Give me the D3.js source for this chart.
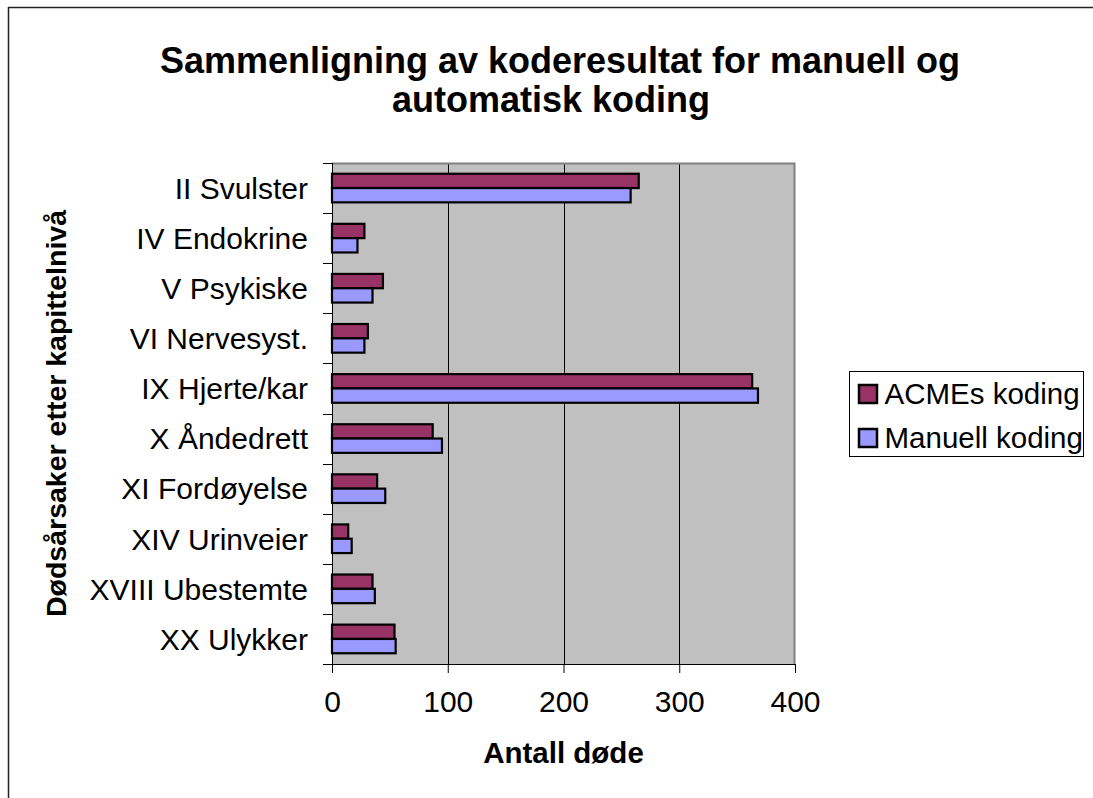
<!DOCTYPE html>
<html>
<head>
<meta charset="utf-8">
<script src="https://cdn.jsdelivr.net/npm/d3@7"></script>
<style>
  body { margin: 0; background: #fff; }
  text { font-family: "Liberation Sans", Arial, sans-serif; fill: #000; }
</style>
</head>
<body>
<div id="chart"></div>
<script>
// data
var categories = ["II Svulster", "IV Endokrine", "V Psykiske", "VI Nervesyst.", "IX Hjerte/kar",
    "X Åndedrett", "XI Fordøyelse", "XIV Urinveier", "XVIII Ubestemte", "XX Ulykker"];
var seriesNames = ["ACMEs koding", "Manuell koding"];
var acmes   = [265, 28, 44, 31, 363, 87, 39, 14, 35, 54];
var manuell = [258, 22, 35, 28, 368, 95, 46, 17, 37, 55];
var xTicks = [0, 100, 200, 300, 400];
var colors = ["#993366", "#9999ff"];

var W = 1093, H = 798;
var m = {t:163, r:298, b:134, l:332};
var w = W - m.l - m.r, h = H - m.t - m.b;   // plot is 463 x 501

var svg = d3.select('#chart').append('svg')
    .attr('width', W).attr('height', H);

// chart frame (runs off the right / bottom edge like the original)
svg.append('rect')
    .attr('x', 8.5).attr('y', 7.5)
    .attr('width', W + 20).attr('height', H + 20)
    .attr('fill', 'none').attr('stroke', '#222').attr('stroke-width', 1.5);

// title
svg.append('text').attr('x', 560).attr('y', 73)
    .attr('text-anchor', 'middle').attr('font-size', 36).attr('font-weight', 'bold')
    .text('Sammenligning av koderesultat for manuell og');
svg.append('text').attr('x', 551).attr('y', 112)
    .attr('text-anchor', 'middle').attr('font-size', 36).attr('font-weight', 'bold')
    .text('automatisk koding');

var plot = svg.append('g').attr('transform', 'translate(' + m.l + ',' + m.t + ')');

var x = d3.scaleLinear().domain([0, 400]).range([0, w]);
var y0 = d3.scaleBand().domain(categories).range([0, h]);
var barH = y0.bandwidth() / 3.5;
var y1 = d3.scaleBand().domain(seriesNames)
    .range([barH * 0.75, barH * 2.75]);

// plot background
plot.append('rect').attr('width', w).attr('height', h).attr('fill', '#c0c0c0');

// gridlines
plot.selectAll('.grid').data(xTicks.slice(1, -1)).enter()
    .append('line').attr('class', 'grid')
    .attr('x1', function(d){ return Math.round(x(d)) + 0.5; })
    .attr('x2', function(d){ return Math.round(x(d)) + 0.5; })
    .attr('y1', 0).attr('y2', h)
    .attr('stroke', '#000').attr('stroke-width', 1);

// plot border (grey on top and right)
plot.append('path')
    .attr('d', 'M0,0.5H' + (w - 0.5) + 'V' + h)
    .attr('fill', 'none').attr('stroke', '#808080').attr('stroke-width', 2);

// bars
var rows = categories.map(function(c, i){
    return {cat: c, vals: [{s: seriesNames[0], v: acmes[i]}, {s: seriesNames[1], v: manuell[i]}]};
});

var groups = plot.selectAll('.grp').data(rows).enter()
    .append('g').attr('class', 'grp')
    .attr('transform', function(d){ return 'translate(0,' + y0(d.cat) + ')'; });

groups.selectAll('rect').data(function(d){ return d.vals; }).enter()
    .append('rect')
    .attr('x', x(0))
    .attr('y', function(d){ return y1(d.s); })
    .attr('width', function(d){ return x(d.v) - x(0); })
    .attr('height', y1.bandwidth())
    .attr('fill', function(d, i){ return colors[i]; })
    .attr('stroke', '#000').attr('stroke-width', 2.2);

// x axis
var xAxis = plot.append('g').attr('transform', 'translate(0,' + h + ')')
    .call(d3.axisBottom(x).tickValues(xTicks).tickSize(9).tickPadding(18));
xAxis.select('.domain').attr('d', 'M-9,0.5H' + w);
xAxis.selectAll('text').attr('font-size', 30)
    .style('font-family', '"Liberation Sans", Arial, sans-serif').attr('fill', '#000');

// y axis: ticks on band edges
var yAxis = plot.append('g');
yAxis.append('line').attr('x1', 0.5).attr('x2', 0.5).attr('y1', 0).attr('y2', h)
    .attr('stroke', '#000');
yAxis.selectAll('.ytick').data(categories.concat(['end'])).enter()
    .append('line').attr('class', 'ytick')
    .attr('x1', -9).attr('x2', 0)
    .attr('y1', function(d, i){ return Math.round(i * y0.step()) + 0.5; })
    .attr('y2', function(d, i){ return Math.round(i * y0.step()) + 0.5; })
    .attr('stroke', '#000');
yAxis.selectAll('.ylab').data(categories).enter()
    .append('text').attr('class', 'ylab')
    .attr('x', -24)
    .attr('y', function(d){ return y0(d) + y0.bandwidth() / 2; })
    .attr('dy', '0.36em')
    .attr('text-anchor', 'end').attr('font-size', 30)
    .text(function(d){ return d; });

// axis titles
svg.append('text')
    .attr('x', m.l + w / 2).attr('y', 763)
    .attr('text-anchor', 'middle').attr('font-size', 29.5).attr('font-weight', 'bold')
    .text('Antall døde');
svg.append('text')
    .attr('transform', 'translate(66,' + (m.t + h / 2) + ') rotate(-90)')
    .attr('text-anchor', 'middle').attr('font-size', 28.5).attr('font-weight', 'bold')
    .text('Dødsårsaker etter kapittelnivå');

// legend
var legend = svg.append('g').attr('transform', 'translate(849.5,371.5)');
legend.append('rect').attr('width', 234).attr('height', 85)
    .attr('fill', '#fff').attr('stroke', '#000');
var li = legend.selectAll('.li').data(seriesNames).enter()
    .append('g').attr('class', 'li')
    .attr('transform', function(d, i){ return 'translate(0,' + (i * 44) + ')'; });
li.append('rect').attr('x', 9.5).attr('y', 13.5).attr('width', 18).attr('height', 18)
    .attr('fill', function(d, i){ return colors[i]; })
    .attr('stroke', '#000').attr('stroke-width', 2.5);
li.append('text').attr('x', 35).attr('y', 32)
    .attr('font-size', 29.5).text(function(d){ return d; });
</script>
</body>
</html>
